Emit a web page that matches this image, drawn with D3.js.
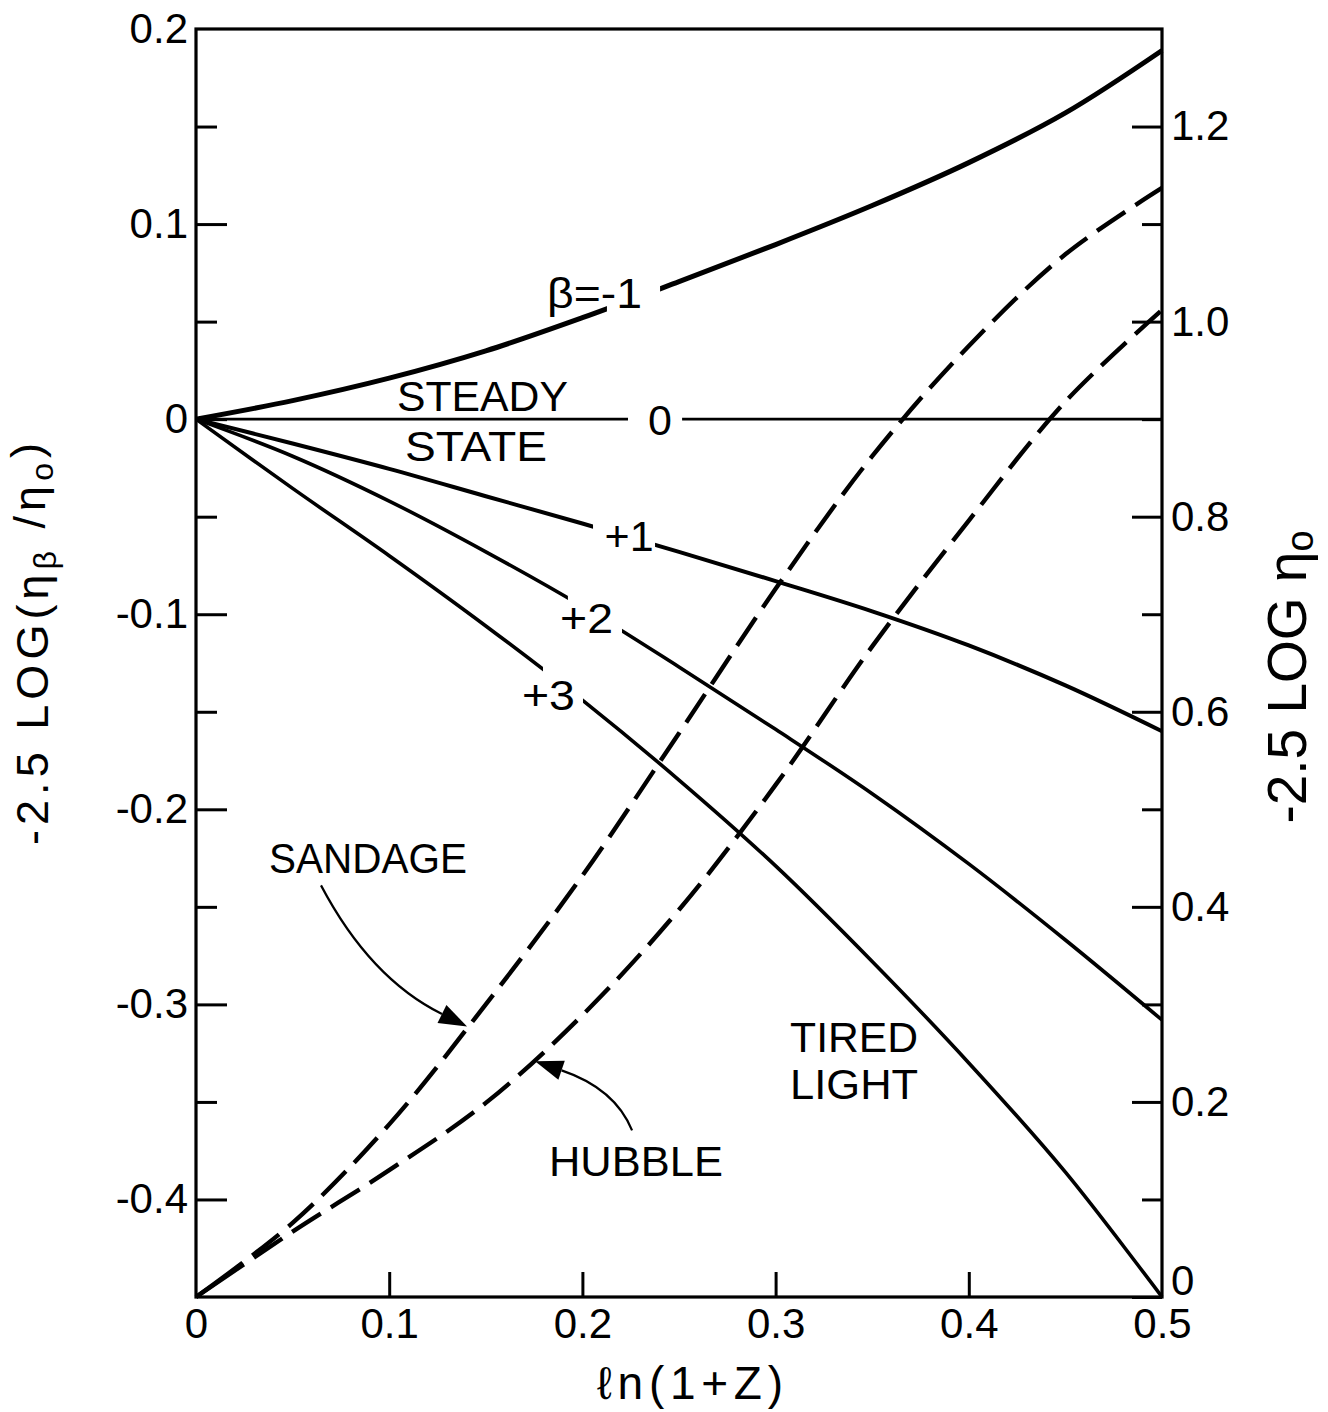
<!DOCTYPE html>
<html>
<head>
<meta charset="utf-8">
<script src="https://cdn.jsdelivr.net/npm/d3@7"></script>
<style>
  body { margin: 0; background: #fff; }
  text { font-family: "Liberation Sans", Arial, sans-serif; fill: #000; }
</style>
</head>
<body>
<script>
// ln(1+z) sample points shared by all curves
const lnz = [0, 0.05, 0.1, 0.15, 0.2, 0.25, 0.3, 0.35, 0.4, 0.45, 0.5];

// -2.5 log(eta_beta / eta_0)  (left axis)
const betaM1 = [0, 0.0095, 0.021, 0.035, 0.052, 0.0705, 0.0895, 0.1095, 0.1315, 0.157, 0.189];
const beta0  = [0, 0, 0, 0, 0, 0, 0, 0, 0, 0, 0];
const betaP1 = [0, -0.0125, -0.0255, -0.0395, -0.0535, -0.068, -0.083, -0.0985, -0.116, -0.1365, -0.160];
const betaP2 = [0, -0.019, -0.042, -0.068, -0.096, -0.127, -0.159, -0.192, -0.228, -0.267, -0.308];
const betaP3 = [0, -0.0355, -0.070, -0.106, -0.144, -0.185, -0.229, -0.278, -0.330, -0.386, -0.45];

// -2.5 log eta_0  (right axis)
const sandage = [0, 0.076, 0.177, 0.300, 0.432, 0.578, 0.726, 0.862, 0.975, 1.069, 1.137];
const hubble  = [0, 0.067, 0.130, 0.199, 0.289, 0.397, 0.525, 0.667, 0.796, 0.918, 1.012];

// ticks
const xLabels = [0, 0.1, 0.2, 0.3, 0.4, 0.5];
const xTicks = [0.1, 0.2, 0.3, 0.4];
const leftLabels = [0.2, 0.1, 0, -0.1, -0.2, -0.3, -0.4];
const leftMajor = [0.1, 0, -0.1, -0.2, -0.3, -0.4];
const leftMinor = [0.15, 0.05, -0.05, -0.15, -0.25, -0.35];
const rightLabels = [0, 0.2, 0.4, 0.6, 0.8, 1.0, 1.2];
const rightMinor = [0.1, 0.3, 0.5, 0.7, 0.9, 1.1];

var margin = { top: 29, right: 166, bottom: 115, left: 196 },
  width = 1328 - margin.left - margin.right,
  height = 1412 - margin.top - margin.bottom;

var x = d3.scaleLinear().domain([0, 0.5]).range([0, width]);
var yL = d3.scaleLinear().domain([-0.45, 0.2]).range([height, 0]);
var yR = d3.scaleLinear().domain([0, 1.3]).range([height, 0]);

var svgRoot = d3.select("body").append("svg")
  .attr("width", 1328).attr("height", 1412);
svgRoot.append("rect").attr("width", 1328).attr("height", 1412).attr("fill", "#fff");
var defs = svgRoot.append("defs");
var svg = svgRoot.append("g")
  .attr("transform", "translate(" + margin.left + "," + margin.top + ")");

var fmt = function (v) { return v === 0 ? "0" : v.toFixed(1); };

function styleAxis(g, size) {
  g.select(".domain").remove();
  g.attr("font-family", null).attr("font-size", size);
  g.selectAll(".tick line").attr("stroke", "#000").attr("stroke-width", 3);
  g.selectAll(".tick text").attr("fill", "#000");
}

// bottom axis
svg.append("g").attr("transform", "translate(0," + height + ")")
  .call(d3.axisBottom(x).tickValues(xLabels).tickFormat(fmt).tickSize(0).tickPadding(11))
  .call(styleAxis, 42);
svg.append("g").attr("transform", "translate(0," + height + ")")
  .call(d3.axisBottom(x).tickValues(xTicks).tickFormat("").tickSize(-25))
  .call(styleAxis, 42);

// left axis
svg.append("g")
  .call(d3.axisLeft(yL).tickValues(leftLabels).tickFormat(fmt).tickSize(0).tickPadding(8))
  .call(styleAxis, 42);
svg.append("g")
  .call(d3.axisLeft(yL).tickValues(leftMajor).tickFormat("").tickSize(-31))
  .call(styleAxis, 42);
svg.append("g")
  .call(d3.axisLeft(yL).tickValues(leftMinor).tickFormat("").tickSize(-21))
  .call(styleAxis, 42);

// right axis
var rAx = svg.append("g").attr("transform", "translate(" + width + ",0)")
  .call(d3.axisRight(yR).tickValues(rightLabels).tickFormat(fmt).tickSize(-30).tickPadding(9))
  .call(styleAxis, 42);
rAx.selectAll(".tick").filter(function (d) { return d === 0; }).select("text").attr("y", -3).attr("dy", "0");
svg.append("g").attr("transform", "translate(" + width + ",0)")
  .call(d3.axisRight(yR).tickValues(rightMinor).tickFormat("").tickSize(-20))
  .call(styleAxis, 42);

// frame
svg.append("rect").attr("width", width).attr("height", height)
  .attr("fill", "none").attr("stroke", "#000").attr("stroke-width", 3.2);

// solid curves (left axis), with gaps where the labels sit
var solid = [
  { vals: betaM1, w: 5, gap: [0.2127, 0.2402] },
  { vals: beta0, w: 2.6, gap: [0.2236, 0.2516] },
  { vals: betaP1, w: 4, gap: [0.2055, 0.2376] },
  { vals: betaP2, w: 3.6, gap: [0.1925, 0.2205] },
  { vals: betaP3, w: 3.6, gap: [0.1796, 0.2003] }
];

var lineL = d3.line()
  .x(function (d, i) { return x(lnz[i]); })
  .y(function (d) { return yL(d); })
  .curve(d3.curveCatmullRom.alpha(0.5));

solid.forEach(function (s, i) {
  var m = defs.append("mask").attr("id", "gap" + i)
    .attr("maskUnits", "userSpaceOnUse")
    .attr("x", -margin.left).attr("y", -margin.top).attr("width", 1328).attr("height", 1412);
  m.append("rect").attr("x", -margin.left).attr("y", -margin.top)
    .attr("width", 1328).attr("height", 1412).attr("fill", "#fff");
  m.append("rect").attr("x", x(s.gap[0])).attr("y", -margin.top)
    .attr("width", x(s.gap[1]) - x(s.gap[0])).attr("height", 1412).attr("fill", "#000");
  svg.append("path").datum(s.vals)
    .attr("d", lineL)
    .attr("fill", "none").attr("stroke", "#000").attr("stroke-width", s.w)
    .attr("mask", "url(#gap" + i + ")");
});

// dashed curves (right axis)
var lineR = d3.line()
  .x(function (d, i) { return x(lnz[i]); })
  .y(function (d) { return yR(d); })
  .curve(d3.curveCatmullRom.alpha(0.5));

[sandage, hubble].forEach(function (vals) {
  var p = svg.append("path").datum(vals)
    .attr("d", lineR)
    .attr("fill", "none").attr("stroke", "#000").attr("stroke-width", 4.4);
  var len = p.node().getTotalLength();
  var arr = [58, 12], tot = 70;
  while (tot < len) { arr.push(34, 12); tot += 46; }
  p.attr("stroke-dasharray", arr.join(","));
});

// curve labels
var labels = [
  { t: "β=-1", x: 0.1817, y: 0.0569, len: 95 },
  { t: "STEADY", x: 0.104, y: 0.0041, len: 171 },
  { t: "STATE", x: 0.1082, y: -0.0215, len: 142 },
  { t: "0", x: 0.2402, y: -0.0082, anchor: "middle" },
  { t: "+1", x: 0.2115, y: -0.0677 },
  { t: "+2", x: 0.1884, y: -0.1097, len: 53 },
  { t: "+3", x: 0.1687, y: -0.1492, len: 53 },
  { t: "SANDAGE", x: 0.0378, y: -0.2328, len: 198 },
  { t: "HUBBLE", x: 0.1827, y: -0.3882, len: 174 },
  { t: "TIRED", x: 0.3075, y: -0.3245, len: 128, size: 42 },
  { t: "LIGHT", x: 0.3075, y: -0.3487, len: 128, size: 42 }
];
labels.forEach(function (l) {
  var t = svg.append("text")
    .attr("x", x(l.x)).attr("y", yL(l.y))
    .attr("font-size", l.size || 43)
    .attr("text-anchor", l.anchor || "start")
    .text(l.t);
  if (l.len) t.attr("textLength", l.len).attr("lengthAdjust", "spacingAndGlyphs");
});

// pointer arrows for SANDAGE and HUBBLE
var arrows = [
  { from: [0.0647, -0.239], ctrl: [0.0901, -0.2867], tip: [0.1403, -0.3113] },
  { from: [0.2257, -0.3646], ctrl: [0.2169, -0.3431], tip: [0.1755, -0.3292] }
];
arrows.forEach(function (a) {
  var p0 = [x(a.from[0]), yL(a.from[1])],
    c = [x(a.ctrl[0]), yL(a.ctrl[1])],
    t = [x(a.tip[0]), yL(a.tip[1])];
  var dx = t[0] - c[0], dy = t[1] - c[1], d = Math.hypot(dx, dy);
  var ux = dx / d, uy = dy / d;
  var bx = t[0] - ux * 28, by = t[1] - uy * 28;
  var path = d3.path();
  path.moveTo(p0[0], p0[1]);
  path.quadraticCurveTo(c[0], c[1], bx, by);
  svg.append("path").attr("d", path.toString())
    .attr("fill", "none").attr("stroke", "#000").attr("stroke-width", 2.2);
  svg.append("path")
    .attr("d", "M" + t[0] + "," + t[1] +
      "L" + (bx - uy * 10) + "," + (by + ux * 10) +
      "L" + (bx + uy * 10) + "," + (by - ux * 10) + "Z")
    .attr("fill", "#000");
});

// axis titles
svg.append("text")
  .attr("x", x(0.25) - 82).attr("y", height + 102)
  .attr("font-size", 46)
  .attr("textLength", 186).attr("lengthAdjust", "spacing")
  .text("ℓn(1+Z)");

var lt = svgRoot.append("text")
  .attr("transform", "translate(48,644) rotate(-90)")
  .attr("text-anchor", "middle")
  .attr("font-size", 45)
  .attr("textLength", 402).attr("lengthAdjust", "spacing");
lt.append("tspan").text("-2.5 LOG(η");
lt.append("tspan").attr("dy", "0.25em").attr("font-size", 32).text("β");
lt.append("tspan").attr("dy", "-0.25em").text(" /η");
lt.append("tspan").attr("dy", "0.25em").attr("font-size", 32).text("o");
lt.append("tspan").attr("dy", "-0.25em").text(")");

var rt = svgRoot.append("text")
  .attr("transform", "translate(1306,677) rotate(-90)")
  .attr("text-anchor", "middle")
  .attr("font-size", 55);
rt.append("tspan").text("-2.5 LOG η");
rt.append("tspan").attr("dy", "0.18em").attr("font-size", 38).text("o");
</script>
</body>
</html>
